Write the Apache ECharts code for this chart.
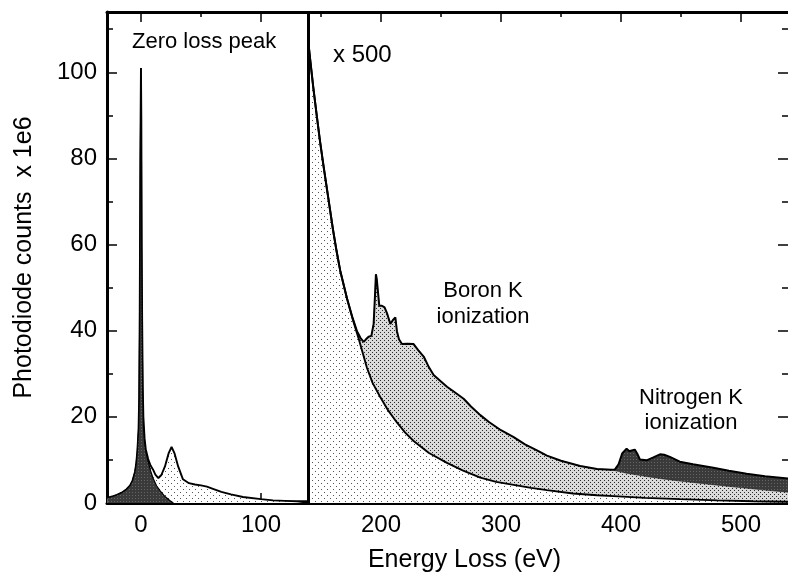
<!DOCTYPE html>
<html><head><meta charset="utf-8">
<script src="https://cdn.jsdelivr.net/npm/echarts@6/dist/echarts.min.js"></script>
<style>html,body{margin:0;padding:0;background:#fff}#c{width:788px;height:578px}</style>
</head><body><div id="c"></div>
<script>
// ---------- data ----------
const lowLossEnergy = [-28,-24,-20,-16,-12,-9,-7,-5,-4,-3,-2,-1.5,-1,-0.5,0,0.3,0.6,1,1.5,2,3,4,6,8,10,12,14.5,17,20,23,25.5,28,31,35,40,45,50,55,60,67,75,85,100,110,120,130,138.5];
const lowLossCounts = [1.2,1.5,1.9,2.4,3.2,4.1,5.2,7.2,9,12,17,24,45,80,101,89,60,42,27,20,15,12.5,10.2,8.7,7.8,6.6,5.8,6.5,8.5,11.5,13,11.5,8.5,5.5,4.6,4.3,4.1,3.8,3.3,2.6,2.0,1.4,0.9,0.6,0.5,0.4,0.4];

const zlpEnergy = [-28,-24,-20,-16,-12,-9,-7,-5,-4,-3,-2,-1.5,-1,-0.5,0,0.3,0.6,1,1.5,2,3,4,6,8,10,13,16,20,24,27];
const zlpCounts = [1.2,1.5,1.9,2.4,3.2,4.1,5.2,7.2,9,12,17,24,45,80,101,89,60,40,25,18,14,12,9.6,7.5,5.8,4,2.8,1.5,0.6,0];

// core-loss spectrum, x 500
const coreEnergy = [139.3,141,143.6,146.7,149.2,152,156,160,163,166,171.7,176,180,183,185.6,187.5,189.7,192,193.9,195,195.8,196.5,197.2,198.6,200.8,203,205,207.8,210,212,213.3,215,217.5,222,227.2,231,235.6,240,243.9,250,255,260.6,268.9,275,282.8,290,300,310.6,320,330,338.3,350,366,380,392,395,398,401,404.7,407,409,411.5,413.5,415.8,421.4,427,432.5,436,440.8,449,460,477,490,504.7,520,539.5];
const coreCounts = [107.5,103,96.5,89.5,84,78.5,71,63.5,58.5,54,47.5,43.3,39.9,38.3,37.4,38,38.6,38.8,41.6,48,53.1,52,51.8,45.8,45.8,45.4,44.1,41.6,42.5,43.1,39.9,38,36.9,37,36.9,35.5,34,31.5,29.7,28.2,27,25.9,24.2,22.4,20.4,18.8,16.9,15.3,13.6,12.2,11,9.8,8.6,7.9,7.7,7.8,9,11.5,12.6,12.0,12.2,12.4,11.5,10.1,9.9,10.6,11.3,11.2,10.7,9.6,9.0,8.2,7.5,6.8,6.2,5.7];

// pre-edge background fit under the boron edge
const bgEnergy = [139.3,141,143.6,146.7,149.2,152,156,160,163,166,171.7,176,181.4,188.3,193,199.4,206,213.3,220,227.2,240,255,268,282.8,296,310.6,325,338.3,360,380,393.9,420,449.4,480,510,539.5];
const bgCounts = [107.5,103,96.5,89.5,84,78.5,71,63.5,58.5,54,47.5,43.1,38.2,31.4,27.9,24.6,21.5,18.7,16.4,14.4,11.6,9.3,7.6,5.9,4.9,4.2,3.5,3.0,2.2,1.8,1.6,1.2,0.9,0.6,0.4,0.3];

// background under the nitrogen edge
const nBgEnergy = [392,405,420,435,449,462,475,499,520,539.5];
const nBgCounts = [7.7,6.9,6.2,5.6,5.1,4.7,4.3,3.6,3.0,2.5];

const dividerEnergy = 139;
const xMajorTicks = [0,100,200,300,400,500];
const xMinorTicks = [50,150,250,350,450];
const yMajorTicks = [0,20,40,60,80,100];
const yMinorTicks = [10,30,50,70,90,110];
const X_MIN = -28.3, X_MAX = 539.2, Y_MIN = 0, Y_MAX = 114;

// ---------- helpers ----------
const zip = (xs, ys) => xs.map((x, i) => [x, ys[i]]);
function dotPattern(w, h, bg, dot, pts) {
  const c = document.createElement('canvas'); c.width = w; c.height = h;
  const g = c.getContext('2d'); g.fillStyle = bg; g.fillRect(0, 0, w, h);
  g.fillStyle = dot; pts.forEach(p => g.fillRect(p[0], p[1], 1, 1));
  return { image: c, repeat: 'repeat' };
}
const lightFill = dotPattern(6, 6, '#ffffff', '#555555', [[0,0],[3,3]]);
const mediumFill = dotPattern(4, 4, '#dadada', '#2a2a2a', [[0,0],[2,2]]);
const darkFill = dotPattern(3, 3, '#3a3a3a', '#656565', [[0,0]]);

const FONT = "'Liberation Sans', Arial, Helvetica, sans-serif";

const corePts = zip(coreEnergy, coreCounts);
const nStart = nBgEnergy[0];
const nEdgePts = corePts.filter(p => p[0] >= nStart);
const mediumPts = corePts.filter(p => p[0] < nStart).concat(zip(nBgEnergy, nBgCounts));

function xAx(pos, major, withLabel) {
  const ticks = major ? xMajorTicks : xMinorTicks;
  const a = {
    type: 'value', position: pos, min: X_MIN, max: X_MAX,
    axisLine: { show: major, onZero: false, lineStyle: { color: '#000', width: 3 } },
    axisTick: { show: true, inside: true, length: major ? 10 : 5, customValues: ticks, lineStyle: { color: '#000', width: 1.5 } },
    axisLabel: { show: withLabel, customValues: ticks, fontSize: 24, color: '#000', fontFamily: FONT, margin: 10 },
    splitLine: { show: false }
  };
  if (withLabel) {
    a.name = 'Energy Loss (eV)'; a.nameLocation = 'middle'; a.nameGap = 45;
    a.nameTextStyle = { fontSize: 25, color: '#000', fontFamily: FONT, padding: [0, 0, 0, 34] };
  }
  return a;
}
function yAx(pos, major, withLabel) {
  const ticks = major ? yMajorTicks : yMinorTicks;
  const a = {
    type: 'value', position: pos, min: Y_MIN, max: Y_MAX,
    axisLine: { show: major && pos === 'left', onZero: false, lineStyle: { color: '#000', width: 3 } },
    axisTick: { show: true, inside: true, length: major ? 10 : 6, customValues: ticks, lineStyle: { color: '#000', width: 1.5 } },
    axisLabel: { show: withLabel, customValues: ticks, fontSize: 24, color: '#000', fontFamily: FONT, margin: 10 },
    splitLine: { show: false }
  };
  if (withLabel) {
    a.name = 'Photodiode counts  x 1e6'; a.nameLocation = 'middle'; a.nameGap = 70;
    a.nameTextStyle = { fontSize: 25, color: '#000', fontFamily: FONT };
  }
  return a;
}

const chart = echarts.init(document.getElementById('c'), null, { renderer: 'canvas' });
chart.setOption({
  animation: false,
  backgroundColor: '#fff',
  grid: { left: 107, right: 0, top: 12, bottom: 73, containLabel: false },
  xAxis: [xAx('bottom', true, true), xAx('bottom', false, false), xAx('top', true, false), xAx('top', false, false)],
  yAxis: [yAx('left', true, true), yAx('left', false, false), yAx('right', true, false), yAx('right', false, false)],
  series: [
    { name: 'low loss', type: 'line', data: zip(lowLossEnergy, lowLossCounts), showSymbol: false, symbol: 'none',
      lineStyle: { color: '#000', width: 1.9 }, areaStyle: { color: lightFill, opacity: 1 }, z: 2,
      markLine: { silent: true, symbol: ['none','none'], label: { show: false },
        lineStyle: { color: '#000', width: 3, type: 'solid' }, data: [{ xAxis: dividerEnergy }] } },
    { name: 'zero loss', type: 'line', data: zip(zlpEnergy, zlpCounts), showSymbol: false, symbol: 'none',
      lineStyle: { color: '#000', width: 1.2 }, areaStyle: { color: darkFill, opacity: 1 }, z: 3 },
    { name: 'N edge', type: 'line', data: nEdgePts, showSymbol: false, symbol: 'none',
      lineStyle: { width: 0 }, areaStyle: { color: darkFill, opacity: 1 }, z: 2 },
    { name: 'B edge', type: 'line', data: mediumPts, showSymbol: false, symbol: 'none',
      lineStyle: { width: 0.6, color: '#222' }, areaStyle: { color: mediumFill, opacity: 1 }, z: 3 },
    { name: 'background', type: 'line', data: zip(bgEnergy, bgCounts), showSymbol: false, symbol: 'none',
      lineStyle: { color: '#000', width: 1.9 }, areaStyle: { color: lightFill, opacity: 1 }, z: 4 },
    { name: 'core loss', type: 'line', data: corePts, showSymbol: false, symbol: 'none',
      lineStyle: { color: '#000', width: 2 }, z: 5 }
  ],
  graphic: [
    { type: 'text', x: 132, y: 42, style: { text: 'Zero loss peak', font: '22px ' + FONT, fill: '#000', align: 'left', verticalAlign: 'middle' } },
    { type: 'text', x: 333, y: 55, style: { text: 'x 500', font: '24px ' + FONT, fill: '#000', align: 'left', verticalAlign: 'middle' } },
    { type: 'text', x: 483, y: 304, style: { text: 'Boron K\nionization', font: '22px ' + FONT, lineHeight: 26, fill: '#000', align: 'center', verticalAlign: 'middle' } },
    { type: 'text', x: 691, y: 410, style: { text: 'Nitrogen K\nionization', font: '22px ' + FONT, lineHeight: 25, fill: '#000', align: 'center', verticalAlign: 'middle' } }
  ]
});
</script></body></html>
